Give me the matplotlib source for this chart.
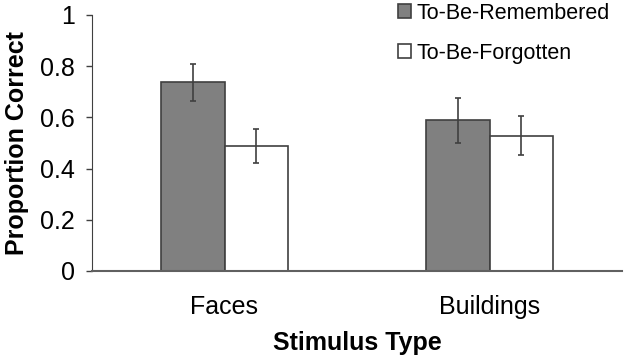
import numpy as np
import matplotlib.pyplot as plt

# data
categories = ['Faces', 'Buildings']
remembered = [0.738, 0.588]
remembered_err = [0.072, 0.088]
forgotten = [0.488, 0.528]
forgotten_err = [0.066, 0.076]

plt.rcParams['font.family'] = ['Liberation Sans', 'DejaVu Sans']

fig = plt.figure(figsize=(6.24, 3.58), dpi=100)
ax = fig.add_axes([92/624, 1 - 271/358, 530/624, 256/358])

x = np.arange(len(categories))
w = 0.238
ekw = dict(ecolor='#404040', elinewidth=1.2, capsize=2.5, capthick=1.2)
ax.bar(x - w/2, remembered, w, yerr=remembered_err, color='#808080',
       edgecolor='#404040', linewidth=1.2, label='To-Be-Remembered', error_kw=ekw)
ax.bar(x + w/2, forgotten, w, yerr=forgotten_err, color='white',
       edgecolor='#404040', linewidth=1.2, label='To-Be-Forgotten', error_kw=ekw)

ax.set_xlim(-0.5, 1.5)
ax.set_ylim(0, 1)
ax.set_yticks([0, 0.2, 0.4, 0.6, 0.8, 1])
ax.set_yticklabels(['0', '0.2', '0.4', '0.6', '0.8', '1'])
ax.set_xticks(x)
ax.set_xticklabels(categories)
ax.tick_params(axis='y', length=4.5, width=1, color='#404040', labelsize=18, pad=8)
ax.tick_params(axis='x', length=0, labelsize=18, pad=17)

for s in ['top', 'right']:
    ax.spines[s].set_visible(False)
ax.spines['left'].set_color('#404040')
ax.spines['bottom'].set_color('#606060')
ax.spines['bottom'].set_linewidth(1.5)

ax.set_xlabel('Stimulus Type', fontsize=18, fontweight='bold', labelpad=9)
ax.set_ylabel('Proportion Correct', fontsize=18, fontweight='bold', labelpad=8)

ax.legend(loc='upper left', bbox_to_anchor=(389/624, 1.017), bbox_transform=fig.transFigure,
          frameon=False, fontsize=15.5, handlelength=0.6, handleheight=0.6,
          handletextpad=0.3, labelspacing=0.9, borderaxespad=0)

fig.savefig('out.png', dpi=100)
